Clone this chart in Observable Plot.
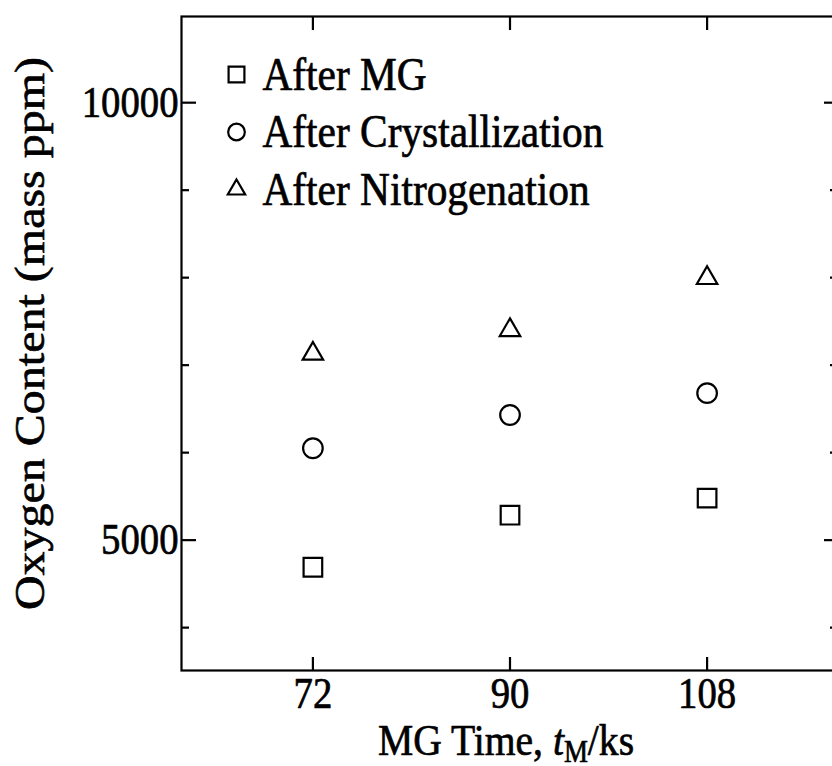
<!DOCTYPE html>
<html><head><meta charset="utf-8">
<script src="https://cdn.jsdelivr.net/npm/d3@7"></script>
<script src="https://cdn.jsdelivr.net/npm/@observablehq/plot@0.6"></script>
<style>
html,body{margin:0;padding:0;background:#fff;overflow:hidden;width:832px;height:766px}
#chart svg{max-width:none !important;overflow:hidden}
</style></head><body><div id="chart"></div>
<script>
// ---- data ----
const mgTime = [72, 90, 108];
const afterMG = [4690, 5285, 5480];
const afterCryst = [6050, 6430, 6680];
const afterNitro = [7130, 7400, 7995];
const seriesNames = ["After MG", "After Crystallization", "After Nitrogenation"];
const seriesSymbols = ["square", "circle", "triangle"];
const xTicks = [72, 90, 108];
const xTickLabels = ["72", "90", "108"];
const yMajorTicks = [5000, 10000];
const yTickLabels = ["5000", "10000"];
const yMinorTicks = [4000, 6000, 7000, 8000, 9000];
const xLabelParts = ["MG Time, ", "t", "M", "/ks"];
const yLabel = "Oxygen Content (mass ppm)";

// ---- layout / style ----
const seriesValues = [afterMG, afterCryst, afterNitro];
const seriesR = [10.5, 9.8, 7.6];
const W = 840, H = 766, ML = 181, MR = 2, MT = 16, MB = 96;
const innerW = W - ML - MR, innerH = H - MT - MB;
const FONT = "'Liberation Serif', 'Times New Roman', serif";
const SW = 2.2;
const TXT = {fill: "#000", stroke: "#000", strokeWidth: 0.7};

const marks = [
  Plot.frame({stroke: "#000", strokeWidth: SW}),
  // left / right y ticks (inward)
  Plot.ruleY(yMajorTicks, {y: d => d, insetRight: innerW - 15, stroke: "#000", strokeWidth: SW}),
  Plot.ruleY(yMinorTicks, {y: d => d, insetRight: innerW - 8, stroke: "#000", strokeWidth: SW}),
  Plot.ruleY(yMajorTicks, {y: d => d, insetLeft: innerW - 14, stroke: "#000", strokeWidth: SW}),
  Plot.ruleY(yMinorTicks, {y: d => d, insetLeft: innerW - 8, stroke: "#000", strokeWidth: SW}),
  // bottom / top x ticks (inward)
  Plot.ruleX(xTicks, {x: d => d, insetTop: innerH - 13, stroke: "#000", strokeWidth: SW}),
  Plot.ruleX(xTicks, {x: d => d, insetBottom: innerH - 14, stroke: "#000", strokeWidth: SW}),
  // tick labels
  Plot.text(yMajorTicks, {y: d => d, text: (d, i) => yTickLabels[i], frameAnchor: "left", dx: -3, textAnchor: "end", lineAnchor: "middle", fontSize: 44, ...TXT}),
  Plot.text(xTicks, {x: d => d, text: (d, i) => xTickLabels[i], frameAnchor: "bottom", dy: 23, lineAnchor: "middle", fontSize: 44, ...TXT}),
  // axis labels
  Plot.text([xLabelParts.join("")], {text: d => d, frameAnchor: "bottom", dx: -4, dy: 70, lineAnchor: "middle", fontSize: 45, ...TXT}),
  Plot.text([yLabel], {text: d => d, frameAnchor: "left", textAnchor: "middle", dx: -151, dy: -10, rotate: -90, lineAnchor: "middle", fontSize: 48, ...TXT})
];

seriesValues.forEach((vals, s) => {
  const pts = vals.map((v, i) => ({t: mgTime[i], o: v}));
  marks.push(Plot.dot(pts, {x: "t", y: "o", symbol: seriesSymbols[s], r: seriesR[s], stroke: "#000", strokeWidth: SW, fill: "none"}));
  // legend entry
  const dy = 58 + s * 57.5;
  marks.push(Plot.dot([seriesNames[s]], {frameAnchor: "top-left", dx: 55, dy, symbol: seriesSymbols[s], r: seriesR[s] * 0.85, stroke: "#000", strokeWidth: SW, fill: "none"}));
  marks.push(Plot.text([seriesNames[s]], {text: d => d, frameAnchor: "top-left", dx: 81, dy, textAnchor: "start", lineAnchor: "middle", fontSize: 47, ...TXT}));
});

const svg = Plot.plot({
  width: W, height: H, marginLeft: ML, marginRight: MR, marginTop: MT, marginBottom: MB,
  style: {fontFamily: FONT, background: "#fff", color: "#000", overflow: "hidden", maxWidth: "none"},
  x: {domain: [60, 120], axis: null},
  y: {domain: [3510, 10985], axis: null},
  marks
});
svg.style.maxWidth = "none";
document.getElementById("chart").append(svg);

// compress glyphs horizontally to match the scanned figure's aspect
svg.querySelectorAll("text").forEach(t => {
  const tr = t.getAttribute("transform") || "";
  t.setAttribute("transform", tr + (tr.includes("rotate") ? " scale(1,0.88)" : " scale(0.88,1)"));
});
// rich x label: italic t with subscript M
svg.querySelectorAll("text").forEach(t => {
  if (t.textContent === xLabelParts.join("")) {
    const sel = d3.select(t);
    sel.text(null);
    sel.append("tspan").text(xLabelParts[0]);
    sel.append("tspan").attr("font-style", "italic").text(xLabelParts[1]);
    sel.append("tspan").attr("font-size", "0.68em").attr("dy", "0.22em").text(xLabelParts[2]);
    sel.append("tspan").attr("dy", "-0.15em").text(xLabelParts[3]);
  }
});
</script></body></html>
